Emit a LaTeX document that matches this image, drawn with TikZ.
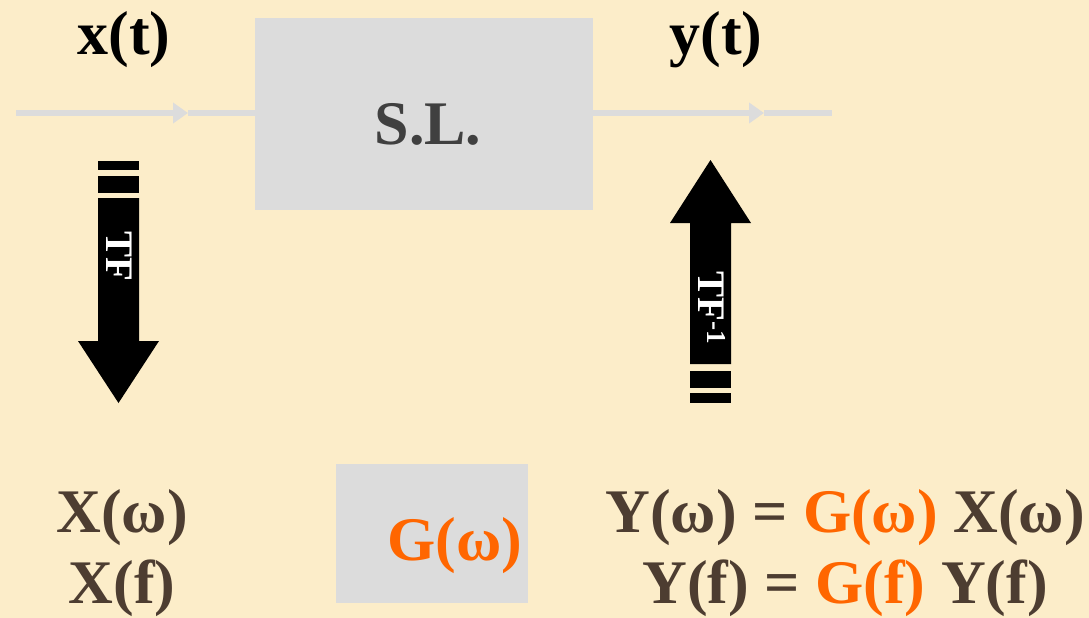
\documentclass[tikz,border=0pt]{standalone}
\usepackage{fontspec}
\setmainfont{Liberation Serif}
\usetikzlibrary{arrows.meta}
\definecolor{bg}{RGB}{252,237,201}
\definecolor{boxgray}{RGB}{220,220,220}
\definecolor{brown}{RGB}{77,61,49}
\definecolor{orng}{RGB}{255,102,0}
\definecolor{slgray}{RGB}{64,64,64}
\tikzset{
  big/.style={font=\fontsize{62}{68}\selectfont\bfseries, inner sep=0pt},
  grayline/.style={draw=boxgray, line width=6pt},
  midtip/.style={-{Triangle[length=15pt,width=20pt]}},
  bigarrow/.style={fill=black, draw=none},
  arrowlabel/.style={text=white, font=\fontsize{39}{41}\selectfont\bfseries, inner sep=0pt}
}
\begin{document}
\begin{tikzpicture}[x=1pt,y=-1pt]
\fill[bg] (0,0) rectangle (1089,618);
\useasboundingbox (0,0) rectangle (1089,618);
% S.L. box
\node[fill=boxgray, minimum width=338pt, minimum height=192pt, inner sep=0pt, anchor=north west] (sl) at (255,18) {};
\node[big, text=slgray] (sltext) at (428,124) {S.L.};
% input / output lines
\coordinate (in) at (16,113);
\coordinate (inmid) at (188,113);
\coordinate (out) at (832,113);
\coordinate (outmid) at (764,113);
\draw[grayline, midtip] (in) -- (inmid);
\draw[grayline] (inmid) -- (sl.west |- in);
\draw[grayline, midtip] (sl.east |- out) -- (outmid);
\draw[grayline] (outmid) -- (out);
\node[big, text=black] (xt) at (124,40) {x(t)};
\node[big, text=black] (yt) at (716,40) {y(t)};
% TF arrow (down)
\fill[bigarrow] (98,161) rectangle (139,170);
\fill[bigarrow] (98,176) rectangle (139,193);
\fill[bigarrow] (98,198) -- (139,198) -- (139,341) -- (159,341) -- (118.5,403) -- (78,341) -- (98,341) -- cycle;
\node[arrowlabel, rotate=-90] (tf) at (119,256) {TF};
% TF-1 arrow (up)
\fill[bigarrow] (690,364) -- (731,364) -- (731,223) -- (751,223) -- (710.5,160) -- (670,223) -- (690,223) -- cycle;
\fill[bigarrow] (690,371) rectangle (731,388);
\fill[bigarrow] (690,393) rectangle (731,403);
\node[arrowlabel, rotate=-90] (tfi) at (712,308) {TF\textsuperscript{-1}};
% G box
\node[fill=boxgray, minimum width=192pt, minimum height=139pt, inner sep=0pt, anchor=north west] (gbox) at (336,464) {};
\node[big, text=orng] (gw) at (455,546) {G(ω)};
% spectra
\node[big, text=brown] (xw) at (122,518) {X(ω)};
\node[big, text=brown] (xf) at (122,588) {X(f)};
\node[big, text=brown] (yw) at (845,518) {Y(ω) = \textcolor{orng}{G(ω)} X(ω)};
\node[big, text=brown] (yf) at (845,588) {Y(f) = \textcolor{orng}{G(f)} Y(f)};
\end{tikzpicture}
\end{document}
